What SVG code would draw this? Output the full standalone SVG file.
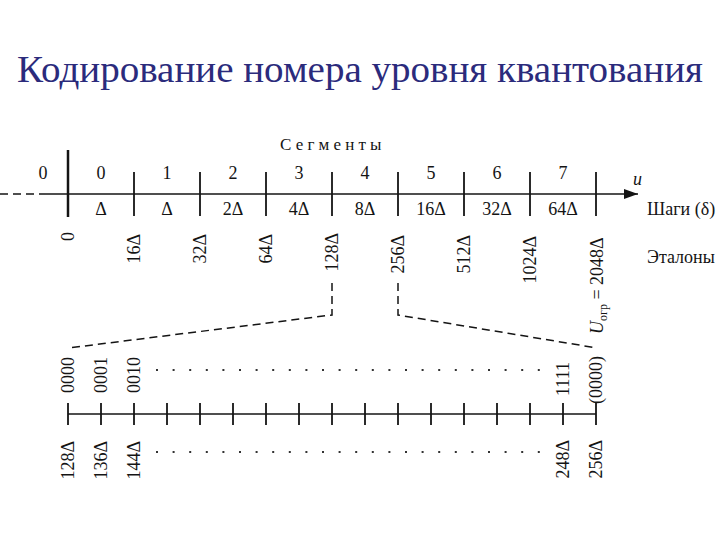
<svg xmlns="http://www.w3.org/2000/svg" width="720" height="540" viewBox="0 0 720 540" font-family="'Liberation Serif', 'DejaVu Serif', 'Times New Roman', serif">
<style>
  text { font-family: 'Liberation Serif', 'DejaVu Serif', 'Times New Roman', serif; fill: #141414; }
  .lbl { font-size: 18px; text-anchor: middle; }
  .rot { font-size: 18px; }
  .ax { stroke: #141414; stroke-width: 1.6; fill: none; }
  .tick { stroke: #141414; stroke-width: 1.8; }
  .dash { stroke: #141414; stroke-width: 1.5; fill: none; stroke-dasharray: 8 5; }
  .dots { stroke: #333; stroke-width: 2; stroke-dasharray: 2 14.6; fill: none; }
</style>
<defs>
  <marker id="arr" markerWidth="14" markerHeight="10" refX="14" refY="5" orient="auto" markerUnits="userSpaceOnUse">
    <path d="M0,0 L14,5 L0,10 Z" fill="#141414"/>
  </marker>
</defs>
<rect width="720" height="540" fill="#ffffff"/>

<g id="title">
  <text x="17" y="82" font-size="37" textLength="686" lengthAdjust="spacingAndGlyphs" style="fill:#2b2b7c">Кодирование номера уровня квантования</text>
</g>

<g id="top-axis">
  <line x1="0" y1="194" x2="45" y2="194" class="ax" stroke-dasharray="8 5"/>
  <line x1="45" y1="194" x2="638" y2="194" class="ax" marker-end="url(#arr)"/>
  <line x1="68" y1="150" x2="68" y2="217" stroke="#141414" stroke-width="2.5"/>
  <g class="tick">
    <line x1="134" y1="172" x2="134" y2="216"/>
    <line x1="200" y1="172" x2="200" y2="216"/>
    <line x1="266" y1="172" x2="266" y2="216"/>
    <line x1="332" y1="172" x2="332" y2="216"/>
    <line x1="398" y1="172" x2="398" y2="216"/>
    <line x1="464" y1="172" x2="464" y2="216"/>
    <line x1="530" y1="172" x2="530" y2="216"/>
    <line x1="596" y1="172" x2="596" y2="216"/>
  </g>
  <text x="633" y="185" font-size="18" font-style="italic">u</text>
</g>

<g id="segments">
  <text x="280" y="150" font-size="17" letter-spacing="4.2">Сегменты</text>
  <text class="lbl" x="43" y="179">0</text>
  <text class="lbl" x="101" y="179">0</text>
  <text class="lbl" x="167" y="179">1</text>
  <text class="lbl" x="233" y="179">2</text>
  <text class="lbl" x="299" y="179">3</text>
  <text class="lbl" x="365" y="179">4</text>
  <text class="lbl" x="431" y="179">5</text>
  <text class="lbl" x="497" y="179">6</text>
  <text class="lbl" x="563" y="179">7</text>
</g>

<g id="steps">
  <text class="lbl" x="101" y="215">Δ</text>
  <text class="lbl" x="167" y="215">Δ</text>
  <text class="lbl" x="233" y="215">2Δ</text>
  <text class="lbl" x="299" y="215">4Δ</text>
  <text class="lbl" x="365" y="215">8Δ</text>
  <text class="lbl" x="431" y="215">16Δ</text>
  <text class="lbl" x="497" y="215">32Δ</text>
  <text class="lbl" x="563" y="215">64Δ</text>
  <text x="647" y="215" font-size="18">Шаги (δ)</text>
</g>

<g id="references">
  <text class="rot" text-anchor="end" transform="translate(74,232) rotate(-90)">0</text>
  <text class="rot" text-anchor="end" transform="translate(140,234) rotate(-90)">16Δ</text>
  <text class="rot" text-anchor="end" transform="translate(206,234) rotate(-90)">32Δ</text>
  <text class="rot" text-anchor="end" transform="translate(272,234) rotate(-90)">64Δ</text>
  <text class="rot" text-anchor="end" transform="translate(338,233) rotate(-90)">128Δ</text>
  <text class="rot" text-anchor="end" transform="translate(404,235) rotate(-90)">256Δ</text>
  <text class="rot" text-anchor="end" transform="translate(470,235) rotate(-90)">512Δ</text>
  <text class="rot" text-anchor="end" transform="translate(536,236) rotate(-90)">1024Δ</text>
  <text class="rot" text-anchor="start" transform="translate(603,334) rotate(-90)"><tspan font-style="italic">U</tspan><tspan font-size="12" dy="4">огр</tspan><tspan dy="-4"> = 2048Δ</tspan></text>
  <text x="647" y="263" font-size="18">Эталоны</text>
</g>

<g id="connectors">
  <polyline class="dash" points="332,283 332,315 68,348"/>
  <polyline class="dash" points="398,283 398,315 597,348"/>
</g>

<g id="lower-scale">
  <line x1="68" y1="414" x2="596" y2="414" class="ax"/>
  <g class="tick">
    <line x1="68" y1="403" x2="68" y2="425"/>
    <line x1="101" y1="403" x2="101" y2="425"/>
    <line x1="134" y1="403" x2="134" y2="425"/>
    <line x1="167" y1="403" x2="167" y2="425"/>
    <line x1="200" y1="403" x2="200" y2="425"/>
    <line x1="233" y1="403" x2="233" y2="425"/>
    <line x1="266" y1="403" x2="266" y2="425"/>
    <line x1="299" y1="403" x2="299" y2="425"/>
    <line x1="332" y1="403" x2="332" y2="425"/>
    <line x1="365" y1="403" x2="365" y2="425"/>
    <line x1="398" y1="403" x2="398" y2="425"/>
    <line x1="431" y1="403" x2="431" y2="425"/>
    <line x1="464" y1="403" x2="464" y2="425"/>
    <line x1="497" y1="403" x2="497" y2="425"/>
    <line x1="530" y1="403" x2="530" y2="425"/>
    <line x1="563" y1="403" x2="563" y2="425"/>
    <line x1="596" y1="403" x2="596" y2="425"/>
  </g>
</g>

<g id="codes">
  <text class="rot" transform="translate(74,393) rotate(-90)">0000</text>
  <text class="rot" transform="translate(107,393) rotate(-90)">0001</text>
  <text class="rot" transform="translate(140,393) rotate(-90)">0010</text>
  <line class="dots" x1="156" y1="370" x2="545" y2="370"/>
  <text class="rot" transform="translate(569,396) rotate(-90)">1111</text>
  <text class="rot" transform="translate(602,404) rotate(-90)">(0000)</text>
</g>

<g id="levels">
  <text class="rot" text-anchor="end" transform="translate(74,441) rotate(-90)">128Δ</text>
  <text class="rot" text-anchor="end" transform="translate(107,441) rotate(-90)">136Δ</text>
  <text class="rot" text-anchor="end" transform="translate(140,441) rotate(-90)">144Δ</text>
  <line class="dots" x1="156" y1="452" x2="545" y2="452"/>
  <text class="rot" text-anchor="end" transform="translate(569,440) rotate(-90)">248Δ</text>
  <text class="rot" text-anchor="end" transform="translate(602,440) rotate(-90)">256Δ</text>
</g>
</svg>
